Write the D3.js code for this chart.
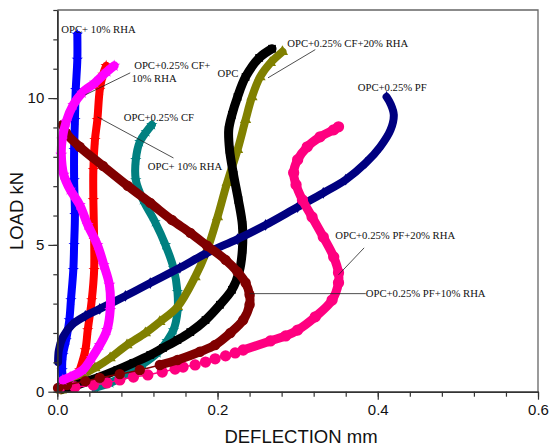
<!DOCTYPE html>
<html>
<head>
<meta charset="utf-8">
<script src="https://cdn.jsdelivr.net/npm/d3@7"></script>
<style>
  html, body { margin: 0; padding: 0; background: #fff; }
  svg { display: block; }
</style>
</head>
<body>
<svg id="chart" width="549" height="448"></svg>
<script>
// Load–deflection curves: [deflection mm, load kN]
const opc = [[0.006,0.09],[0.016,0.16],[0.032,0.30],[0.053,0.50],[0.075,0.74],[0.095,0.98],[0.116,1.25],[0.132,1.49],[0.150,1.76],[0.166,2.03],[0.185,2.44],[0.203,2.96],[0.218,3.47],[0.227,4.08],[0.231,4.83],[0.231,5.68],[0.226,6.53],[0.220,7.39],[0.215,8.24],[0.214,8.92],[0.218,9.43],[0.225,10.04],[0.235,10.72],[0.252,11.37],[0.268,11.68]];
const opcCf20Rha = [[0.005,0.05],[0.013,0.19],[0.025,0.47],[0.047,0.81],[0.066,1.15],[0.087,1.59],[0.110,2.00],[0.128,2.38],[0.150,2.89],[0.172,3.91],[0.187,4.83],[0.200,5.95],[0.212,7.12],[0.225,8.24],[0.235,9.26],[0.243,10.04],[0.253,10.72],[0.266,11.20],[0.281,11.58]];
const opcPf = [[0.001,1.01],[0.002,1.42],[0.007,1.86],[0.018,2.27],[0.035,2.58],[0.053,2.82],[0.085,3.26],[0.116,3.70],[0.153,4.22],[0.187,4.73],[0.225,5.20],[0.260,5.68],[0.300,6.29],[0.332,6.77],[0.360,7.22],[0.385,7.79],[0.403,8.34],[0.416,8.92],[0.420,9.43],[0.416,9.80],[0.411,10.04]];
const opcPf20Rha = [[0.003,0.13],[0.022,0.16],[0.045,0.23],[0.062,0.30],[0.078,0.40],[0.095,0.50],[0.113,0.57],[0.131,0.67],[0.147,0.77],[0.157,0.84],[0.172,0.91],[0.185,1.01],[0.197,1.12],[0.210,1.22],[0.222,1.32],[0.232,1.42],[0.266,1.73],[0.285,1.90],[0.300,2.10],[0.322,2.55],[0.343,3.12],[0.351,3.71],[0.351,4.05],[0.345,4.59],[0.332,5.27],[0.318,5.95],[0.306,6.53],[0.298,7.05],[0.295,7.46],[0.300,7.90],[0.312,8.34],[0.328,8.68],[0.345,8.92],[0.351,9.02]];
const opcPf10Rha = [[0.001,0.13],[0.012,0.23],[0.035,0.36],[0.053,0.47],[0.078,0.60],[0.103,0.74],[0.128,0.91],[0.150,1.08],[0.178,1.36],[0.197,1.59],[0.216,2.00],[0.232,2.44],[0.240,2.96],[0.240,3.30],[0.235,3.71],[0.225,4.08],[0.210,4.49],[0.187,4.97],[0.166,5.41],[0.143,5.85],[0.116,6.43],[0.088,7.01],[0.057,7.69],[0.028,8.34],[0.011,8.81],[0.007,9.09]];
const opc10RhaA = [[0.005,0.20],[0.007,0.40],[0.006,0.74],[0.007,1.25],[0.011,1.76],[0.015,2.44],[0.017,3.12],[0.020,4.15],[0.021,5.00],[0.022,6.02],[0.021,7.21],[0.021,8.24],[0.022,9.26],[0.023,10.28],[0.025,11.31],[0.025,12.16]];
const opcCf10Rha = [[0.007,0.40],[0.016,0.50],[0.032,0.74],[0.043,1.15],[0.053,1.59],[0.062,2.10],[0.066,2.78],[0.065,3.64],[0.058,4.32],[0.050,5.00],[0.038,5.68],[0.028,6.36],[0.016,6.88],[0.008,7.39],[0.005,8.07],[0.006,8.58],[0.011,9.19],[0.020,9.77],[0.031,10.18],[0.047,10.52],[0.062,10.90],[0.071,11.10]];
const opc10RhaB = [[0.018,0.13],[0.023,0.40],[0.028,0.74],[0.035,1.42],[0.038,2.10],[0.043,3.12],[0.046,4.15],[0.046,5.17],[0.045,6.53],[0.045,7.56],[0.047,8.58],[0.050,9.26],[0.053,10.28],[0.057,10.80],[0.061,11.10]];
const opcCf = [[0.047,0.13],[0.066,0.30],[0.087,0.60],[0.107,0.94],[0.125,1.32],[0.137,1.73],[0.145,2.10],[0.150,2.72],[0.150,3.40],[0.145,4.22],[0.135,5.00],[0.122,5.78],[0.107,6.53],[0.098,7.21],[0.098,7.90],[0.103,8.51],[0.111,8.85],[0.118,9.09]];

// Axis ticks
const xTickValues = [0, 0.2, 0.4, 0.6];
const xTickLabels = ["0.0", "0.2", "0.4", "0.6"];
const yTickValues = [0, 5, 10];
const yTickLabels = ["0", "5", "10"];

// Drawing order and appearance of each curve
const curves = [
  { data: opc10RhaA,   color: "#0000ff", width: 8, symbol: d3.symbolStar,     size: 40, bandFrom: 0 },
  { data: opc10RhaB,   color: "#ff0000", width: 8, symbol: d3.symbolStar,     size: 40, bandFrom: 0 },
  { data: opcCf,       color: "#008080", width: 8, symbol: d3.symbolStar,     size: 40, bandFrom: 0 },
  { data: opcCf20Rha,  color: "#808000", width: 8, symbol: d3.symbolTriangle, size: 55, bandFrom: 0 },
  { data: opc,         color: "#000000", width: 9, symbol: d3.symbolSquare,   size: 60, bandFrom: 0 },
  { data: opcPf,       color: "#000080", width: 8, symbol: d3.symbolDiamond,  size: 40, bandFrom: 0 },
  { data: opcPf20Rha,  color: "#ff0080", width: 9, symbol: d3.symbolCircle,   size: 100, bandFrom: 15 },
  { data: opcPf10Rha,  color: "#800000", width: 9, symbol: d3.symbolCircle,   size: 85, bandFrom: 6 },
  { data: opcCf10Rha,  color: "#ff00ff", width: 9, symbol: d3.symbolStar,     size: 45, bandFrom: 0 }
];

// Curve annotations (anchor in data units) with optional leader lines
const annotations = [
  { lines: ["OPC+ 10% RHA"], x: 0.005, y: 12.22 },
  { lines: ["OPC+0.25% CF+", "10% RHA"], x: 0.096, y: 11.0, dx2: -0.003, leader: [[0.091, 10.86], [0.035, 10.11]] },
  { lines: ["OPC"], x: 0.200, y: 10.72 },
  { lines: ["OPC+0.25% CF+20% RHA"], x: 0.287, y: 11.75, leader: [[0.322, 11.65], [0.263, 10.69]] },
  { lines: ["OPC+0.25% CF"], x: 0.083, y: 9.23 },
  { lines: ["OPC+ 10% RHA"], x: 0.113, y: 7.55, leader: [[0.145, 7.96], [0.050, 9.36]] },
  { lines: ["OPC+0.25% PF"], x: 0.375, y: 10.25 },
  { lines: ["OPC+0.25% PF+20% RHA"], x: 0.347, y: 5.20, leader: [[0.383, 4.90], [0.351, 3.98]] },
  { lines: ["OPC+0.25% PF+10% RHA"], x: 0.385, y: 3.23, leader: [[0.240, 3.34], [0.385, 3.34]] }
];

const svg = d3.select("#chart");
const margin = { left: 57.3, right: 538, top: 10, bottom: 391.7 };

const x = d3.scaleLinear().domain([0, 0.6]).range([margin.left, margin.right]);
const y = d3.scaleLinear().domain([0, 13]).range([margin.bottom, margin.top]);

// Frame (top and right edges)
svg.append("path")
  .attr("d", `M${x(0)},${y(13)}H${x(0.6)}V${y(0)}`)
  .attr("fill", "none").attr("stroke", "#666").attr("stroke-width", 1.3);

const plot = svg.append("g");
const line = d3.line().x(d => x(d[0])).y(d => y(d[1])).curve(d3.curveCatmullRom.alpha(0.5));

curves.forEach(c => {
  const g = plot.append("g");
  // thin core through all points
  g.append("path").attr("d", line(c.data))
    .attr("fill", "none").attr("stroke", c.color).attr("stroke-width", 1.5);
  // thick band where the markers merge
  g.append("path").attr("d", line(c.data.slice(c.bandFrom)))
    .attr("fill", "none").attr("stroke", c.color).attr("stroke-width", c.width)
    .attr("stroke-linecap", "round").attr("stroke-linejoin", "round");
  g.selectAll("path.m").data(c.data).join("path").attr("class", "m")
    .attr("transform", d => `translate(${x(d[0])},${y(d[1])})`)
    .attr("d", d3.symbol().type(c.symbol).size(c.size))
    .attr("fill", c.color);
});

// Axes
const xAxis = d3.axisBottom(x).tickValues(xTickValues).tickFormat((d, i) => xTickLabels[i]).tickSize(8).tickSizeOuter(0).tickPadding(5);
const xMinor = d3.axisBottom(x).tickValues(d3.range(0, 0.6001, 0.04)).tickFormat("").tickSize(5).tickSizeOuter(0);
const yAxis = d3.axisLeft(y).tickValues(yTickValues).tickFormat((d, i) => yTickLabels[i]).tickSize(9).tickSizeOuter(0).tickPadding(4);
const yMinor = d3.axisLeft(y).tickValues(d3.range(0, 13.001, 1)).tickFormat("").tickSize(4).tickSizeOuter(0);

function styleAxis(g) {
  g.selectAll(".domain").attr("stroke", "#333").attr("stroke-width", 1.5);
  g.selectAll(".tick line").attr("stroke", "#333").attr("stroke-width", 1.2);
  g.selectAll(".tick text").attr("fill", "#111").style("font-family", "'Liberation Sans', Arial, sans-serif").style("font-size", "15px");
}
svg.append("g").attr("transform", `translate(0,${y(0)})`).call(xMinor).call(styleAxis);
svg.append("g").attr("transform", `translate(0,${y(0)})`).call(xAxis).call(styleAxis);
svg.append("g").attr("transform", `translate(${x(0)},0)`).call(yMinor).call(styleAxis);
svg.append("g").attr("transform", `translate(${x(0)},0)`).call(yAxis).call(styleAxis);

// Axis titles
svg.append("text").attr("x", 301).attr("y", 443)
  .attr("text-anchor", "middle")
  .style("font-family", "'Liberation Sans', Arial, sans-serif").style("font-size", "18.5px").attr("fill", "#111")
  .text("DEFLECTION mm");
svg.append("text").attr("transform", `translate(23,211) rotate(-90)`)
  .attr("text-anchor", "middle")
  .style("font-family", "'Liberation Sans', Arial, sans-serif").style("font-size", "18.5px").attr("fill", "#111")
  .text("LOAD kN");

// Annotations
const ann = svg.append("g").style("font-family", "'Liberation Serif', 'Times New Roman', serif").style("font-size", "10.7px").attr("fill", "#111");
annotations.forEach(a => {
  if (a.leader) {
    ann.append("line")
      .attr("x1", x(a.leader[0][0])).attr("y1", y(a.leader[0][1]))
      .attr("x2", x(a.leader[1][0])).attr("y2", y(a.leader[1][1]))
      .attr("stroke", "#222").attr("stroke-width", 0.8);
  }
  a.lines.forEach((t, i) => {
    ann.append("text")
      .attr("x", x(a.x + (i > 0 && a.dx2 ? a.dx2 : 0)))
      .attr("y", y(a.y) + i * 13)
      .text(t);
  });
});
</script>
</body>
</html>
